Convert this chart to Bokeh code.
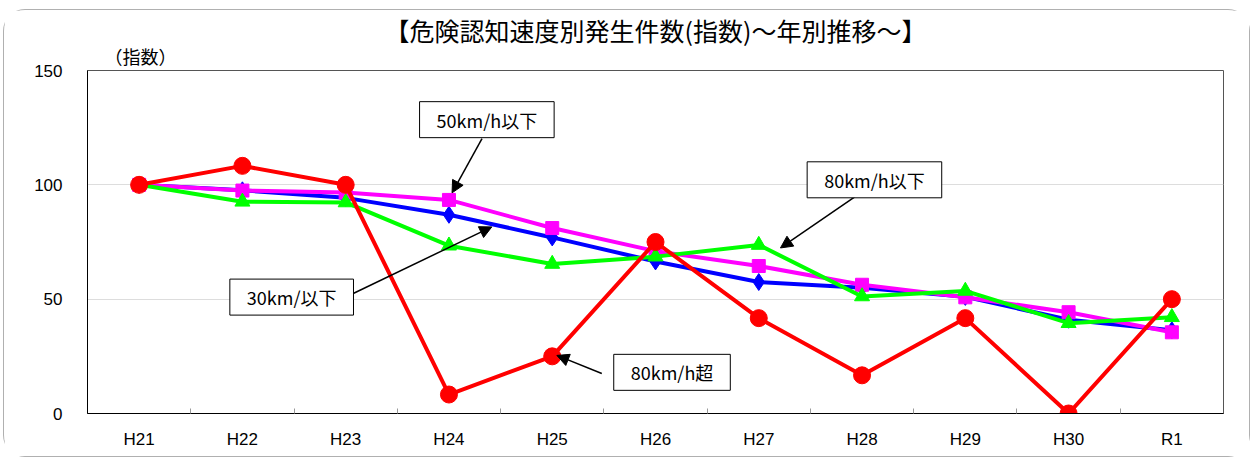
from bokeh.plotting import figure
from bokeh.models import Label, Arrow, NormalHead, FixedTicker, Range1d, Title
from bokeh.embed import file_html
from bokeh.resources import INLINE

categories = ["H21", "H22", "H23", "H24", "H25", "H26", "H27", "H28", "H29", "H30", "R1"]
speed_30 = [100, 97.6, 94.3, 86.9, 77.0, 66.5, 57.5, 55.0, 51.0, 41.0, 36.4]
speed_50 = [100, 97.5, 96.6, 93.4, 81.1, 71.0, 64.5, 56.3, 50.8, 44.3, 35.5]
speed_80 = [100, 92.6, 92.3, 73.4, 65.4, 68.6, 73.7, 51.2, 53.6, 39.5, 42.1]
speed_over80 = [100, 108.3, 100, 8.3, 25.0, 75.0, 41.7, 16.7, 41.7, 0, 50.0]
yticks = [0, 50, 100, 150]

title_text = "【危険認知速度別発生件数(指数)～年別推移～】"
ylabel_text = "（指数）"

xs = [i + 0.5 for i in range(len(categories))]

FONT_JP = "Noto Sans CJK JP"
FONT_NUM = "Liberation Sans"

p = figure(width=1247, height=448, output_backend="svg", toolbar_location=None,
           x_range=Range1d(0, len(categories)), y_range=Range1d(0, 150),
           min_border_left=83, min_border_right=28, min_border_top=60, min_border_bottom=45)
p.background_fill_color = "white"
p.border_fill_color = "white"
p.outline_line_color = "#555555"
p.outline_line_width = 1
p.styles = {"border": "1px solid #b0b0b0", "border-radius": "22px", "box-sizing": "border-box",
            "margin-left": "3px", "margin-top": "9px"}

# axes
p.xaxis.ticker = FixedTicker(ticks=xs, minor_ticks=list(range(1, len(categories))))
p.xaxis.major_label_overrides = {x: c for x, c in zip(xs, categories)}
p.xaxis.major_tick_line_color = None
p.xaxis.minor_tick_in = 5
p.xaxis.minor_tick_out = 0
p.xaxis.minor_tick_line_color = "#999999"
p.xaxis.axis_line_color = "black"
p.xaxis.major_label_text_font = FONT_NUM
p.xaxis.major_label_text_font_size = "17px"
p.xaxis.major_label_text_color = "black"
p.xaxis.major_label_standoff = 10

p.yaxis.ticker = FixedTicker(ticks=yticks)
p.yaxis.major_tick_out = 0
p.yaxis.major_tick_in = 0
p.yaxis.minor_tick_line_color = None
p.yaxis.axis_line_color = "black"
p.yaxis.major_label_text_font = FONT_NUM
p.yaxis.major_label_text_font_size = "17px"
p.yaxis.major_label_text_color = "black"
p.yaxis.major_label_standoff = 25

p.xgrid.grid_line_color = None
p.ygrid.ticker = FixedTicker(ticks=yticks)
p.ygrid.grid_line_color = "#dddddd"

# series (bottom to top)
p.line(xs, speed_30, line_color="#0000FF", line_width=4)
p.scatter(xs, speed_30, marker="diamond", size=17, fill_color="#0000FF", line_color="#0000FF")

p.line(xs, speed_50, line_color="#FF00FF", line_width=4)
p.scatter(xs, speed_50, marker="square", size=13, fill_color="#FF00FF", line_color="#FF00FF")

p.line(xs, speed_80, line_color="#00FF00", line_width=4)
p.scatter(xs, speed_80, marker="triangle", size=15, fill_color="#00FF00", line_color="#00FF00")

p.line(xs, speed_over80, line_color="#FF0000", line_width=4)
p.scatter(xs, speed_over80, marker="circle", size=17, fill_color="#FF0000", line_color="#FF0000")

# chart title (outermost) and y label (nearest the frame)
p.title.text = title_text
p.title.align = "center"
p.title.standoff = -16
p.title.text_font = FONT_JP
p.title.text_font_size = "25px"
p.title.text_font_style = "normal"
p.title.text_color = "black"
p.add_layout(Title(text=ylabel_text, align="left", offset=17, standoff=3, text_font=FONT_JP,
                   text_font_size="18px", text_font_style="normal", text_color="black"), "above")

# callouts: text, box centre, arrow start, arrow end (data units)
callouts = [
    ("50km/h以下", (3.867, 128.5), (3.82, 120.2), (3.53, 96.5)),
    ("80km/h以下", (7.62, 102.2), (7.43, 94.7), (6.71, 72.4)),
    ("30km/以下", (1.977, 50.9), (2.578, 52.6), (3.915, 81.6)),
    ("80km/h超", (5.66, 18.0), (4.98, 17.5), (4.545, 25.4)),
]
for txt, (cx, cy), (sx, sy), (ex, ey) in callouts:
    p.add_layout(Arrow(x_start=sx, y_start=sy, x_end=ex, y_end=ey, line_color="black", line_width=1.5,
                       end=NormalHead(size=12, fill_color="black", line_color="black")))
    p.add_layout(Label(x=cx, y=cy, text=txt, text_font=FONT_JP, text_font_size="18px",
                       text_align="center", text_baseline="middle", text_color="black",
                       background_fill_color="white", border_line_color="black", border_line_width=1,
                       padding=(17, 5)))

open("out.html", "w").write(file_html(p, INLINE))
